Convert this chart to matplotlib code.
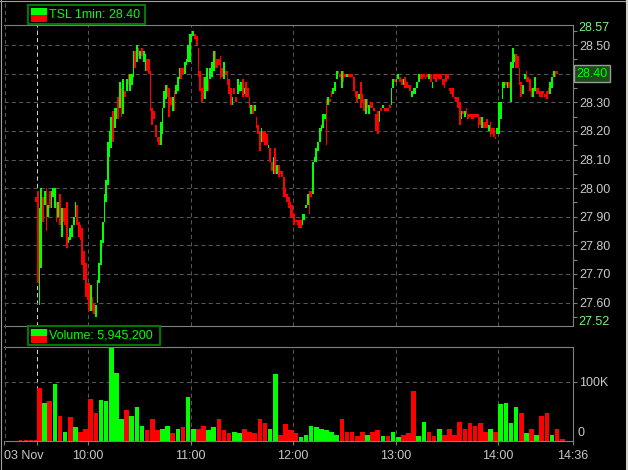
import numpy as np
import matplotlib
matplotlib.use("Agg")
import matplotlib.pyplot as plt
from matplotlib import font_manager
from matplotlib.patches import Rectangle
from matplotlib.transforms import blended_transform_factory

# ---------------- data ----------------
symbol = "TSL"
interval = "1min"
date_label = "03 Nov"
last_time_label = "14:36"
total_volume = 5945200
price_axis_min = 27.52
price_axis_max = 28.57
price_ticks = [27.60, 27.70, 27.80, 27.90, 28.00, 28.10, 28.20, 28.30, 28.40, 28.50]
price_minor_ticks = [27.55, 27.65, 27.75, 27.85, 27.95, 28.05, 28.15, 28.25, 28.35, 28.45, 28.55]
hour_minutes = [30, 90, 150, 210, 270]          # minutes after 09:30
hour_labels = ["10:00", "11:00", "12:00", "13:00", "14:00"]

premarket_minute = [-1]
premarket_open = [27.97]
premarket_close = [27.95]

candle_open = [
    27.99, 27.59, 27.72, 27.97, 27.94, 28.00, 27.90, 27.99, 27.93, 27.97,
    27.93, 27.95, 27.90, 27.98, 27.83, 27.93, 27.93, 27.95, 27.81, 27.82,
    27.83, 27.87, 27.90, 27.94, 27.88, 27.87, 27.86, 27.78, 27.74, 27.67,
    27.67, 27.57, 27.62, 27.60, 27.55, 27.60, 27.67, 27.73, 27.81, 27.88,
    27.95, 28.01, 28.11, 28.14, 28.27, 28.21, 28.24, 28.32, 28.28, 28.35,
    28.26, 28.34, 28.34, 28.40, 28.34, 28.36, 28.39, 28.48, 28.44, 28.49,
    28.45, 28.49, 28.44, 28.41, 28.45, 28.45, 28.41, 28.28, 28.27, 28.22,
    28.18, 28.18, 28.15, 28.19, 28.28, 28.31, 28.36, 28.35, 28.32, 28.27,
    28.34, 28.33, 28.34, 28.38, 28.42, 28.42, 28.40, 28.43, 28.44, 28.44,
    28.51, 28.53, 28.54, 28.53, 28.49, 28.41, 28.35, 28.39, 28.31, 28.34,
    28.38, 28.38, 28.39, 28.41, 28.48, 28.45, 28.45, 28.46, 28.42, 28.38,
    28.41, 28.41, 28.38, 28.35, 28.29, 28.35, 28.32, 28.33, 28.34, 28.34,
    28.38, 28.33, 28.37, 28.35, 28.32, 28.26, 28.29, 28.27, 28.25, 28.22,
    28.20, 28.16, 28.20, 28.20, 28.19, 28.14, 28.14, 28.09, 28.05, 28.14,
    28.05, 28.08, 28.06, 28.06, 28.04, 28.00, 27.98, 27.97, 27.95, 27.94,
    27.91, 27.89, 27.89, 27.89, 27.89, 27.87, 27.89, 27.93, 27.94, 27.99,
    27.99, 27.98, 28.09, 28.09, 28.13, 28.16, 28.20, 28.21, 28.24, 28.31,
    28.29, 28.31, 28.34, 28.33, 28.34, 28.38, 28.41, 28.40, 28.35, 28.41,
    28.40, 28.39, 28.40, 28.40, 28.40, 28.39, 28.34, 28.34, 28.31, 28.37,
    28.33, 28.31, 28.26, 28.31, 28.26, 28.30, 28.30, 28.28, 28.26, 28.27,
    28.23, 28.28, 28.28, 28.28, 28.28, 28.28, 28.29, 28.29, 28.35, 28.38,
    28.37, 28.38, 28.39, 28.38, 28.36, 28.39, 28.37, 28.36, 28.36, 28.32,
    28.33, 28.33, 28.35, 28.37, 28.40, 28.40, 28.40, 28.39, 28.40, 28.38,
    28.40, 28.35, 28.40, 28.40, 28.40, 28.40, 28.40, 28.38, 28.38, 28.40,
    28.40, 28.35, 28.35, 28.35, 28.32, 28.32, 28.32, 28.30, 28.24, 28.27,
    28.25, 28.28, 28.26, 28.26, 28.26, 28.26, 28.26, 28.26, 28.26, 28.25,
    28.21, 28.23, 28.23, 28.24, 28.20, 28.23, 28.21, 28.21, 28.18, 28.19,
    28.19, 28.24, 28.31, 28.35, 28.37, 28.35, 28.37, 28.30, 28.42, 28.44,
    28.47, 28.46, 28.42, 28.37, 28.33, 28.38, 28.41, 28.39, 28.38, 28.35,
    28.32, 28.34, 28.35, 28.35, 28.34, 28.34, 28.34, 28.33, 28.34, 28.35,
    28.33, 28.35, 28.39, 28.41, 28.41]

candle_close = [
    27.67, 27.93, 28.00, 27.88, 27.99, 27.85, 27.94, 27.93, 27.99, 28.00,
    28.00, 27.88, 27.95, 27.87, 27.93, 27.88, 27.87, 27.79, 27.83, 27.86,
    27.87, 27.90, 27.95, 27.87, 27.83, 27.82, 27.73, 27.68, 27.62, 27.61,
    27.57, 27.66, 27.57, 27.56, 27.59, 27.68, 27.74, 27.82, 27.88, 27.98,
    28.03, 28.16, 28.20, 28.25, 28.16, 28.28, 28.28, 28.24, 28.37, 28.25,
    28.38, 28.32, 28.38, 28.36, 28.40, 28.40, 28.48, 28.42, 28.50, 28.46,
    28.48, 28.46, 28.48, 28.47, 28.41, 28.40, 28.27, 28.22, 28.24, 28.18,
    28.16, 28.15, 28.23, 28.28, 28.34, 28.36, 28.32, 28.25, 28.29, 28.32,
    28.27, 28.36, 28.39, 28.42, 28.38, 28.40, 28.44, 28.45, 28.50, 28.54,
    28.54, 28.55, 28.52, 28.50, 28.39, 28.34, 28.30, 28.31, 28.39, 28.42,
    28.34, 28.42, 28.44, 28.48, 28.42, 28.42, 28.43, 28.38, 28.39, 28.44,
    28.40, 28.36, 28.33, 28.29, 28.32, 28.33, 28.30, 28.38, 28.36, 28.37,
    28.32, 28.35, 28.32, 28.32, 28.28, 28.29, 28.26, 28.29, 28.21, 28.19,
    28.13, 28.21, 28.16, 28.15, 28.15, 28.15, 28.09, 28.06, 28.11, 28.05,
    28.08, 28.04, 28.05, 28.04, 27.97, 27.97, 27.95, 27.93, 27.90, 27.90,
    27.87, 27.88, 27.87, 27.86, 27.86, 27.91, 27.91, 27.94, 27.98, 27.91,
    27.97, 28.09, 28.11, 28.14, 28.16, 28.21, 28.22, 28.26, 28.26, 28.15,
    28.32, 28.30, 28.32, 28.35, 28.37, 28.41, 28.40, 28.39, 28.41, 28.37,
    28.39, 28.40, 28.39, 28.39, 28.39, 28.34, 28.32, 28.30, 28.33, 28.28,
    28.30, 28.27, 28.31, 28.28, 28.29, 28.28, 28.28, 28.27, 28.20, 28.19,
    28.27, 28.27, 28.29, 28.27, 28.27, 28.27, 28.28, 28.35, 28.38, 28.37,
    28.38, 28.40, 28.37, 28.36, 28.38, 28.35, 28.35, 28.35, 28.34, 28.34,
    28.35, 28.35, 28.37, 28.40, 28.38, 28.38, 28.39, 28.38, 28.39, 28.40,
    28.37, 28.37, 28.38, 28.37, 28.39, 28.38, 28.38, 28.36, 28.35, 28.37,
    28.38, 28.34, 28.33, 28.32, 28.31, 28.30, 28.28, 28.22, 28.27, 28.26,
    28.27, 28.26, 28.24, 28.25, 28.24, 28.24, 28.25, 28.25, 28.21, 28.22,
    28.25, 28.21, 28.21, 28.21, 28.22, 28.18, 28.19, 28.18, 28.17, 28.21,
    28.30, 28.30, 28.37, 28.37, 28.36, 28.37, 28.35, 28.44, 28.49, 28.47,
    28.42, 28.42, 28.36, 28.32, 28.36, 28.40, 28.37, 28.37, 28.34, 28.32,
    28.35, 28.39, 28.33, 28.33, 28.32, 28.32, 28.33, 28.32, 28.31, 28.33,
    28.37, 28.39, 28.41, 28.39, 28.40]

# 3-minute volume bars (thousands of shares), G = up bar, R = down bar
volume_k = [
    89, 65, 67, 96, 42, 16, 40, 23, 16, 20,
    72, 48, 69, 67, 165, 116, 38, 52, 42, 57,
    25, 18, 37, 18, 21, 26, 13, 20, 23, 75,
    21, 20, 25, 18, 23, 38, 18, 13, 16, 13,
    21, 16, 13, 38, 31, 20, 114, 11, 28, 18,
    13, 6, 10, 26, 23, 21, 18, 16, 11, 38,
    16, 16, 8, 16, 10, 15, 18, 8, 8, 15,
    6, 11, 13, 85, 8, 33, 15, 8, 20, 10,
    21, 10, 33, 21, 31, 26, 30, 15, 20, 15,
    62, 65, 30, 57, 47, 13, 21, 11, 43, 48,
    10, 21, 3]
volume_dir = ("RGRGRGRGRR" "RRGGGGGRGG" "GRRRGGRGRG" "GRRGGRRRGG" "RRRRRGGRRR"
              "RGGGGGGGGR" "RRRRGRRGRG" "GRRRGGRRGR" "RRRRRRRRGR" "GGGGRGRGRR" "GRR")
premarket_vol_minute = [-11, -8, -5, -2]
premarket_vol_k = [2, 1, 2, 2]
volume_axis_max_k = 159.3

# ---------------- style ----------------
names = {f.name for f in font_manager.fontManager.ttflist}
if "Liberation Sans Narrow" in names:
    FONT, FS, FSL = "Liberation Sans Narrow", 10.5, 10.5
else:
    FONT, FS, FSL = "Liberation Sans", 9, 9
plt.rcParams["font.family"] = [FONT, "DejaVu Sans"]

BG = "#000000"
GREEN = "#00ff00"
RED = "#ff0000"
AXIS = "#808080"
GRID = "#555555"
TXT = "#c8c8c8"
EXT = "#80f080"
DASH = (0, (4, 3))

W, H = 628, 470
fig = plt.figure(figsize=(W / 100, H / 100), dpi=100, facecolor=BG)


def box(l, t, r, b):
    return [l / W, 1 - b / H, (r - l) / W, (b - t) / H]


X0, X1 = -19.3, 313.8
ax_p = fig.add_axes(box(4, 25, 573, 325.5), facecolor=BG)
ax_v = fig.add_axes(box(4, 347, 573, 441), facecolor=BG)

for ax in (ax_p, ax_v):
    ax.set_xlim(X0, X1)
    ax.spines["left"].set_visible(False)
    for s in ("top", "bottom", "right"):
        ax.spines[s].set_color(AXIS)
        ax.spines[s].set_linewidth(0.8)
    for m in hour_minutes:
        ax.axvline(m, color=GRID, ls=DASH, lw=0.75, zorder=0.5)
    ax.axvline(0, color="#d0d0d0", ls=DASH, lw=0.75, zorder=0.5)
    ax.set_axisbelow(True)

# ---- price panel ----
ax_p.set_ylim(price_axis_min, price_axis_max)
o = np.array(candle_open)
c = np.array(candle_close)
t = np.arange(len(o)) + 0.5
lo = np.minimum(o, c)
hgt = np.maximum(np.abs(c - o), 0.006)
cols = [GREEN if cc >= oo else RED for oo, cc in zip(o, c)]
ax_p.bar(t, hgt, bottom=lo, width=1.0, color=cols, linewidth=0, antialiased=False, zorder=2)
po = np.array(premarket_open)
pc = np.array(premarket_close)
ax_p.bar(np.array(premarket_minute) + 0.5, np.maximum(np.abs(pc - po), 0.006),
         bottom=np.minimum(po, pc), width=1.0, color=RED, linewidth=0, antialiased=False, zorder=2)

last = candle_close[-1]
ax_p.yaxis.tick_right()
ax_p.set_yticks(price_ticks)
# the tick label at the last price is hidden behind the last-price box
ax_p.set_yticklabels(["" if abs(v - last) < 0.03 else f"{v:.2f}" for v in price_ticks])
ax_p.set_yticks(price_minor_ticks, minor=True)
ax_p.tick_params(axis="y", which="both", colors=AXIS, labelcolor=TXT, length=3.2,
                 width=0.8, pad=1.2, labelsize=FS, direction="out")
ax_p.tick_params(axis="x", which="both", bottom=False, labelbottom=False)
ax_p.grid(axis="y", which="major", color=GRID, ls=DASH, lw=0.75)

trp = blended_transform_factory(ax_p.transAxes, ax_p.transData)
ax_p.annotate(f"{price_axis_max:.2f}", xy=(1, price_axis_max), xycoords=trp, xytext=(5, -3),
              textcoords="offset pixels", ha="left", va="center", color=EXT, fontsize=FS,
              annotation_clip=False)
ax_p.annotate(f"{price_axis_min:.2f}", xy=(1, price_axis_min), xycoords=trp, xytext=(5, 3.5),
              textcoords="offset pixels", ha="left", va="center", color=EXT, fontsize=FS,
              annotation_clip=False)
ax_p.annotate(f"{last:.2f}", xy=(1, last), xycoords=trp, xytext=(3.5, 0),
              textcoords="offset pixels", ha="left", va="center", color=GREEN, fontsize=FS,
              bbox=dict(boxstyle="square,pad=0.2", fc="#1d4a1d", ec="#9a9a9a", lw=1),
              annotation_clip=False, zorder=10)

# ---- volume panel ----
ax_v.set_ylim(0, volume_axis_max_k * 1000)
vt = 3 * np.arange(len(volume_k)) + 1.5
vcols = [GREEN if d == "G" else RED for d in volume_dir]
ax_v.bar(vt, np.array(volume_k) * 1000, width=2.7, color=vcols, linewidth=0,
         antialiased=False, zorder=2)
ax_v.bar(np.array(premarket_vol_minute) + 1.5, np.array(premarket_vol_k) * 1000, width=2.0,
         color=RED, linewidth=0, antialiased=False, zorder=2)
ax_v.yaxis.tick_right()
ax_v.set_yticks([100000])
ax_v.set_yticklabels(["100K"])
ax_v.tick_params(axis="y", colors=AXIS, labelcolor=TXT, length=3.2, width=0.8, pad=1.2,
                 labelsize=FS, direction="out")
ax_v.grid(axis="y", color=GRID, ls=DASH, lw=0.75)
trv = blended_transform_factory(ax_v.transAxes, ax_v.transData)
ax_v.annotate("0", xy=(1, 0), xycoords=trv, xytext=(5, 8), textcoords="offset pixels",
              ha="left", va="center", color=TXT, fontsize=FS, annotation_clip=False)

xt = [X0, 0] + hour_minutes + [X1]
xl = [date_label, ""] + hour_labels + [last_time_label]
ax_v.set_xticks(xt)
ax_v.set_xticklabels(xl)
ax_v.tick_params(axis="x", colors=AXIS, labelcolor=TXT, length=3.2, width=0.8, pad=3,
                 labelsize=FS, direction="out")
ax_v.get_xticklabels()[0].set_horizontalalignment("left")

# ---- overlay: legends, frame ----
ov = fig.add_axes([0, 0, 1, 1], zorder=20)
ov.set_xlim(0, W)
ov.set_ylim(H, 0)
ov.axis("off")
ov.plot([4.5, 4.5], [3, 441], color=GRID, ls=DASH, lw=0.75)


def legend(x, y, w, h, text):
    ov.add_patch(Rectangle((x, y), w, h, fc=BG, ec="#007800", lw=1.5))
    ov.add_patch(Rectangle((x + 2.5, y + 2.5), 16, 7.5, fc=GREEN, ec="none"))
    ov.add_patch(Rectangle((x + 2.5, y + 10), 16, 7, fc=RED, ec="none"))
    ov.text(x + 21, y + h / 2 + 0.5, text, color=GREEN, fontsize=FSL, va="center", ha="left")


legend(28, 5, 117, 19, f"{symbol} {interval}: {last:.2f}")
legend(28, 326, 132, 19, f"Volume: {total_volume:,}")

ov.plot([0, W], [0.5, 0.5], color="#a0a0a0", lw=0.8)
ov.plot([0.5, 0.5], [0, H], color="#a0a0a0", lw=0.8)
ov.plot([626.5, 626.5], [0, H], color="#d4d0c8", lw=1.5)

fig.savefig("out.png", dpi=100, facecolor=BG)
